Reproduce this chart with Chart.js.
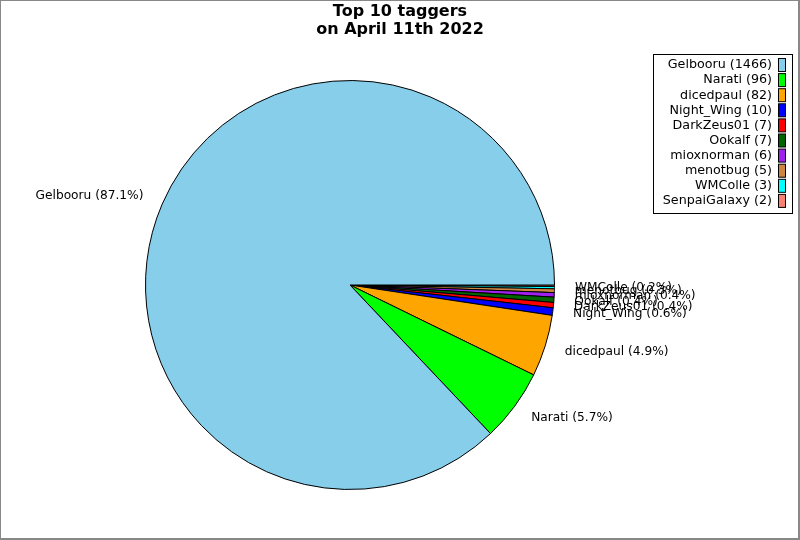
<!DOCTYPE html>
<html>
<head>
<meta charset="utf-8">
<script src="https://cdn.jsdelivr.net/npm/chart.js@4"></script>
<style>
  html, body { margin: 0; padding: 0; background: #fff; }
  canvas { display: block; }
</style>
</head>
<body>
<canvas id="pieChart" width="800" height="540"></canvas>
<script>
const taggers = ['Gelbooru', 'Narati', 'dicedpaul', 'Night_Wing', 'DarkZeus01', 'Ookalf', 'mioxnorman', 'menotbug', 'WMColle', 'SenpaiGalaxy'];
const tagCounts = [1466, 96, 82, 10, 7, 7, 6, 5, 3, 2];
const sliceColors = ['#87ceeb', '#00ff00', '#ffa500', '#0000ff', '#ff0000', '#006400', '#a020f0', '#cd853f', '#00ffff', '#fa8072'];
const titleLines = ['Top 10 taggers', 'on April 11th 2022'];

const fontFamily = '"DejaVu Sans", sans-serif';
const total = tagCounts.reduce((a, b) => a + b, 0);

// matplotlib goes counter-clockwise, chart.js clockwise, so feed it reversed
const revLabels = taggers.slice().reverse();
const revCounts = tagCounts.slice().reverse();
const revColors = sliceColors.slice().reverse();

const sliceLabels = {
  id: 'sliceLabels',
  afterDatasetsDraw(chart) {
    const ctx = chart.ctx;
    const meta = chart.getDatasetMeta(0);
    ctx.save();
    ctx.font = '12.2px ' + fontFamily;
    ctx.fillStyle = '#000';
    ctx.textBaseline = 'middle';
    meta.data.forEach((arc, i) => {
      const pct = revCounts[i] / total * 100;
      if (pct < 0.15) return; // tiniest slice has no label in the original
      const p = arc.getProps(['x', 'y', 'startAngle', 'endAngle', 'outerRadius'], true);
      const mid = (p.startAngle + p.endAngle) / 2;
      const r = p.outerRadius * 1.1;
      const x = p.x + Math.cos(mid) * r;
      const y = p.y + Math.sin(mid) * r;
      ctx.textAlign = Math.cos(mid) < 0 ? 'right' : 'left';
      ctx.fillText(revLabels[i] + ' (' + pct.toFixed(1) + '%)', x, y);
    });
    ctx.restore();
  }
};

const titleAndLegend = {
  id: 'titleAndLegend',
  afterDraw(chart) {
    const ctx = chart.ctx;
    ctx.save();
    // figure frame
    ctx.strokeStyle = '#888';
    ctx.lineWidth = 1;
    ctx.strokeRect(0.5, 0.5, 798, 538);
    ctx.lineWidth = 2;
    ctx.beginPath();
    ctx.moveTo(799, 0); ctx.lineTo(799, 540);
    ctx.moveTo(0, 539); ctx.lineTo(800, 539);
    ctx.stroke();
    // title
    ctx.fillStyle = '#000';
    ctx.font = 'bold 16px ' + fontFamily;
    ctx.textAlign = 'center';
    ctx.textBaseline = 'middle';
    titleLines.forEach((line, i) => ctx.fillText(line, 400, 12 + i * 17.5));
    // legend box
    ctx.lineWidth = 1;
    ctx.strokeStyle = '#000';
    ctx.fillStyle = '#fff';
    ctx.fillRect(653.5, 54.5, 139, 159);
    ctx.strokeRect(653.5, 54.5, 139, 159);
    ctx.font = '12.7px ' + fontFamily;
    ctx.textAlign = 'right';
    taggers.forEach((name, i) => {
      const y = 65 + i * 15.1;
      ctx.fillStyle = '#000';
      ctx.fillText(name + ' (' + tagCounts[i] + ')', 772, y);
      ctx.fillStyle = sliceColors[i];
      ctx.fillRect(778.5, y - 6.5, 7, 13);
      ctx.strokeRect(778.5, y - 6.5, 7, 13);
    });
    ctx.restore();
  }
};

new Chart(document.getElementById('pieChart'), {
  type: 'pie',
  data: {
    labels: revLabels,
    datasets: [{
      data: revCounts,
      backgroundColor: revColors,
      borderColor: '#000',
      borderWidth: 1
    }]
  },
  options: {
    responsive: false,
    animation: false,
    rotation: 90,
    layout: {
      padding: { left: 145, right: 245, top: 80, bottom: 50 }
    },
    plugins: {
      legend: { display: false },
      tooltip: { enabled: false },
      title: { display: false }
    }
  },
  plugins: [sliceLabels, titleAndLegend]
});
</script>
</body>
</html>
